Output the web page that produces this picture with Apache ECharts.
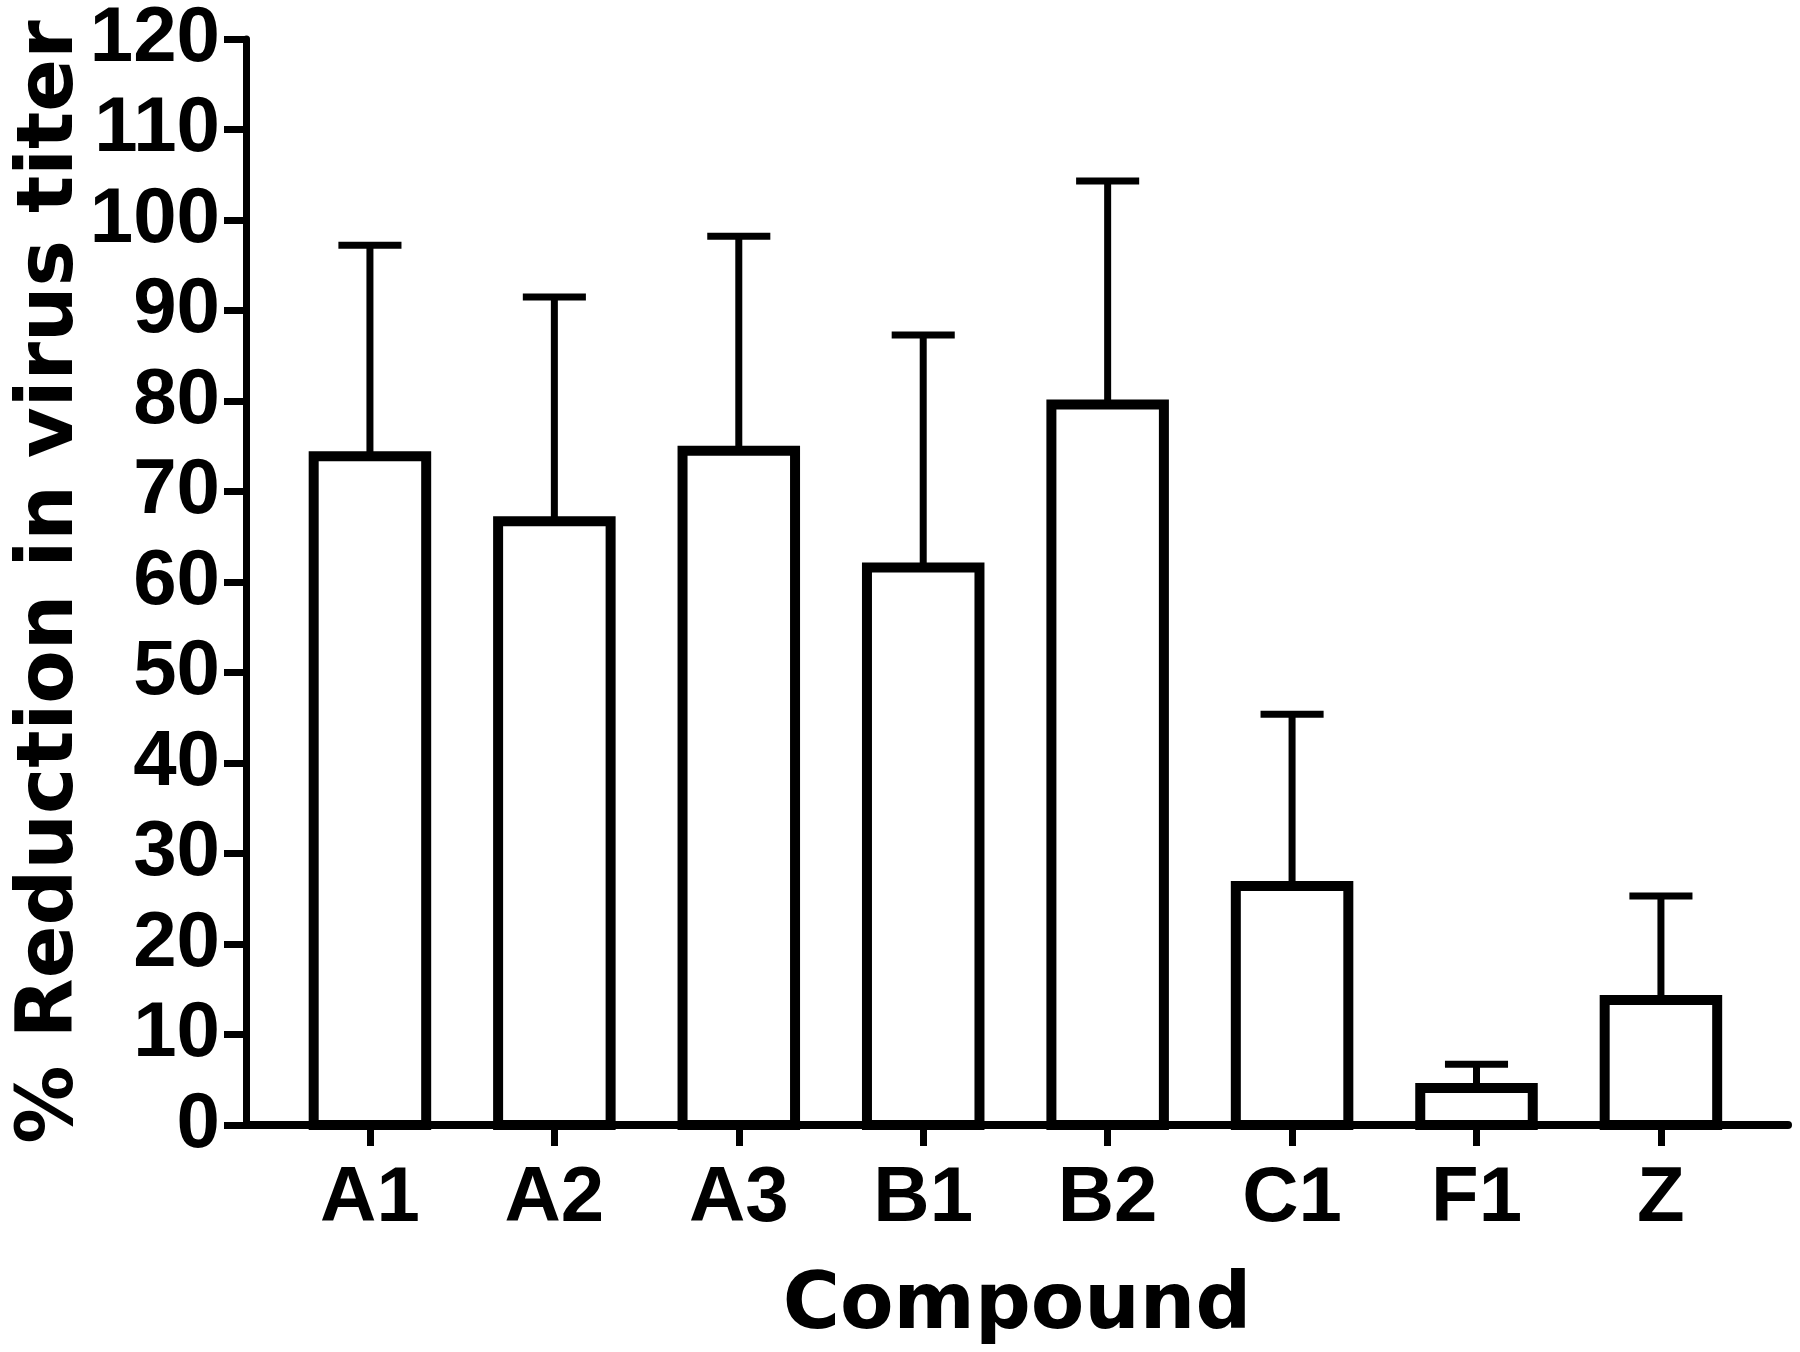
<!DOCTYPE html>
<html>
<head>
<meta charset="utf-8">
<script src="https://cdn.jsdelivr.net/npm/echarts@6/dist/echarts.min.js"></script>
<style>
html,body{margin:0;padding:0;background:#fff;}
#chart{width:1800px;height:1352px;}
</style>
</head>
<body>
<div id="chart"></div>
<script>
// Data
const categories = ['A1', 'A2', 'A3', 'B1', 'B2', 'C1', 'F1', 'Z'];
const means = [73.9, 66.7, 74.5, 61.6, 79.6, 26.4, 4.1, 13.8];
const errors = [23.3, 24.8, 23.7, 25.7, 24.7, 19.0, 2.6, 11.5];
const categoryPositions = [0, 1, 2, 3, 4, 5, 6, 7];
const yTitle = '% Reduction in virus titer';
const xTitle = 'Compound';

const seriesData = categories.map((c, i) => [categoryPositions[i], means[i], errors[i]]);

const chart = echarts.init(document.getElementById('chart'), null, {renderer: 'canvas'});

const tickFont = {fontFamily: 'Liberation Sans', fontWeight: 'bold', fontSize: 78, color: '#000'};
const titleFont = {fontFamily: 'DejaVu Sans', fontWeight: 'bold', fontSize: 78, color: '#000'};

chart.setOption({
  backgroundColor: '#fff',
  animation: false,
  grid: {left: 246, top: 37, right: 12, bottom: 220, containLabel: false},
  xAxis: {
    type: 'value',
    min: -0.672,
    max: 7.689,
    splitLine: {show: false},
    axisLine: {show: true, onZero: false, lineStyle: {color: '#000', width: 8}},
    axisTick: {show: true, customValues: categoryPositions, length: 21, inside: false, lineStyle: {color: '#000', width: 7}},
    axisLabel: Object.assign({
      customValues: categoryPositions,
      margin: 35,
      formatter: v => categories[Math.round(v)] || ''
    }, tickFont),
    name: xTitle,
    nameLocation: 'middle',
    nameGap: 144,
    nameMoveOverlap: false,
    nameTextStyle: titleFont
  },
  yAxis: {
    type: 'value',
    min: 0,
    max: 120,
    interval: 10,
    splitLine: {show: false},
    axisLine: {show: true, onZero: false, lineStyle: {color: '#000', width: 7}},
    axisTick: {show: true, length: 22, inside: false, lineStyle: {color: '#000', width: 7}},
    axisLabel: Object.assign({margin: 26}, tickFont),
    name: yTitle,
    nameLocation: 'middle',
    nameRotate: 90,
    nameGap: 155,
    nameMoveOverlap: false,
    nameTextStyle: titleFont
  },
  series: [{
    type: 'custom',
    data: seriesData,
    encode: {x: 0, y: 1},
    clip: false,
    renderItem: function (params, api) {
      const i = api.value(0), m = api.value(1), e = api.value(2);
      const base = api.coord([i, 0]);
      const top = api.coord([i, m]);
      const up = api.coord([i, m + e]);
      const w = api.size([0.61, 0])[0];
      const cw = api.size([0.342, 0])[0];
      return {
        type: 'group',
        children: [
          {type: 'line', shape: {x1: top[0], y1: top[1], x2: up[0], y2: up[1]},
            style: {stroke: '#000', lineWidth: 7, lineCap: 'butt'}},
          {type: 'line', shape: {x1: up[0] - cw / 2, y1: up[1], x2: up[0] + cw / 2, y2: up[1]},
            style: {stroke: '#000', lineWidth: 7, lineCap: 'butt'}},
          {type: 'rect', shape: {x: top[0] - w / 2, y: top[1], width: w, height: base[1] - top[1]},
            style: {fill: '#fff', stroke: '#000', lineWidth: 10, lineJoin: 'miter'}}
        ]
      };
    }
  }]
});
</script>
</body>
</html>
